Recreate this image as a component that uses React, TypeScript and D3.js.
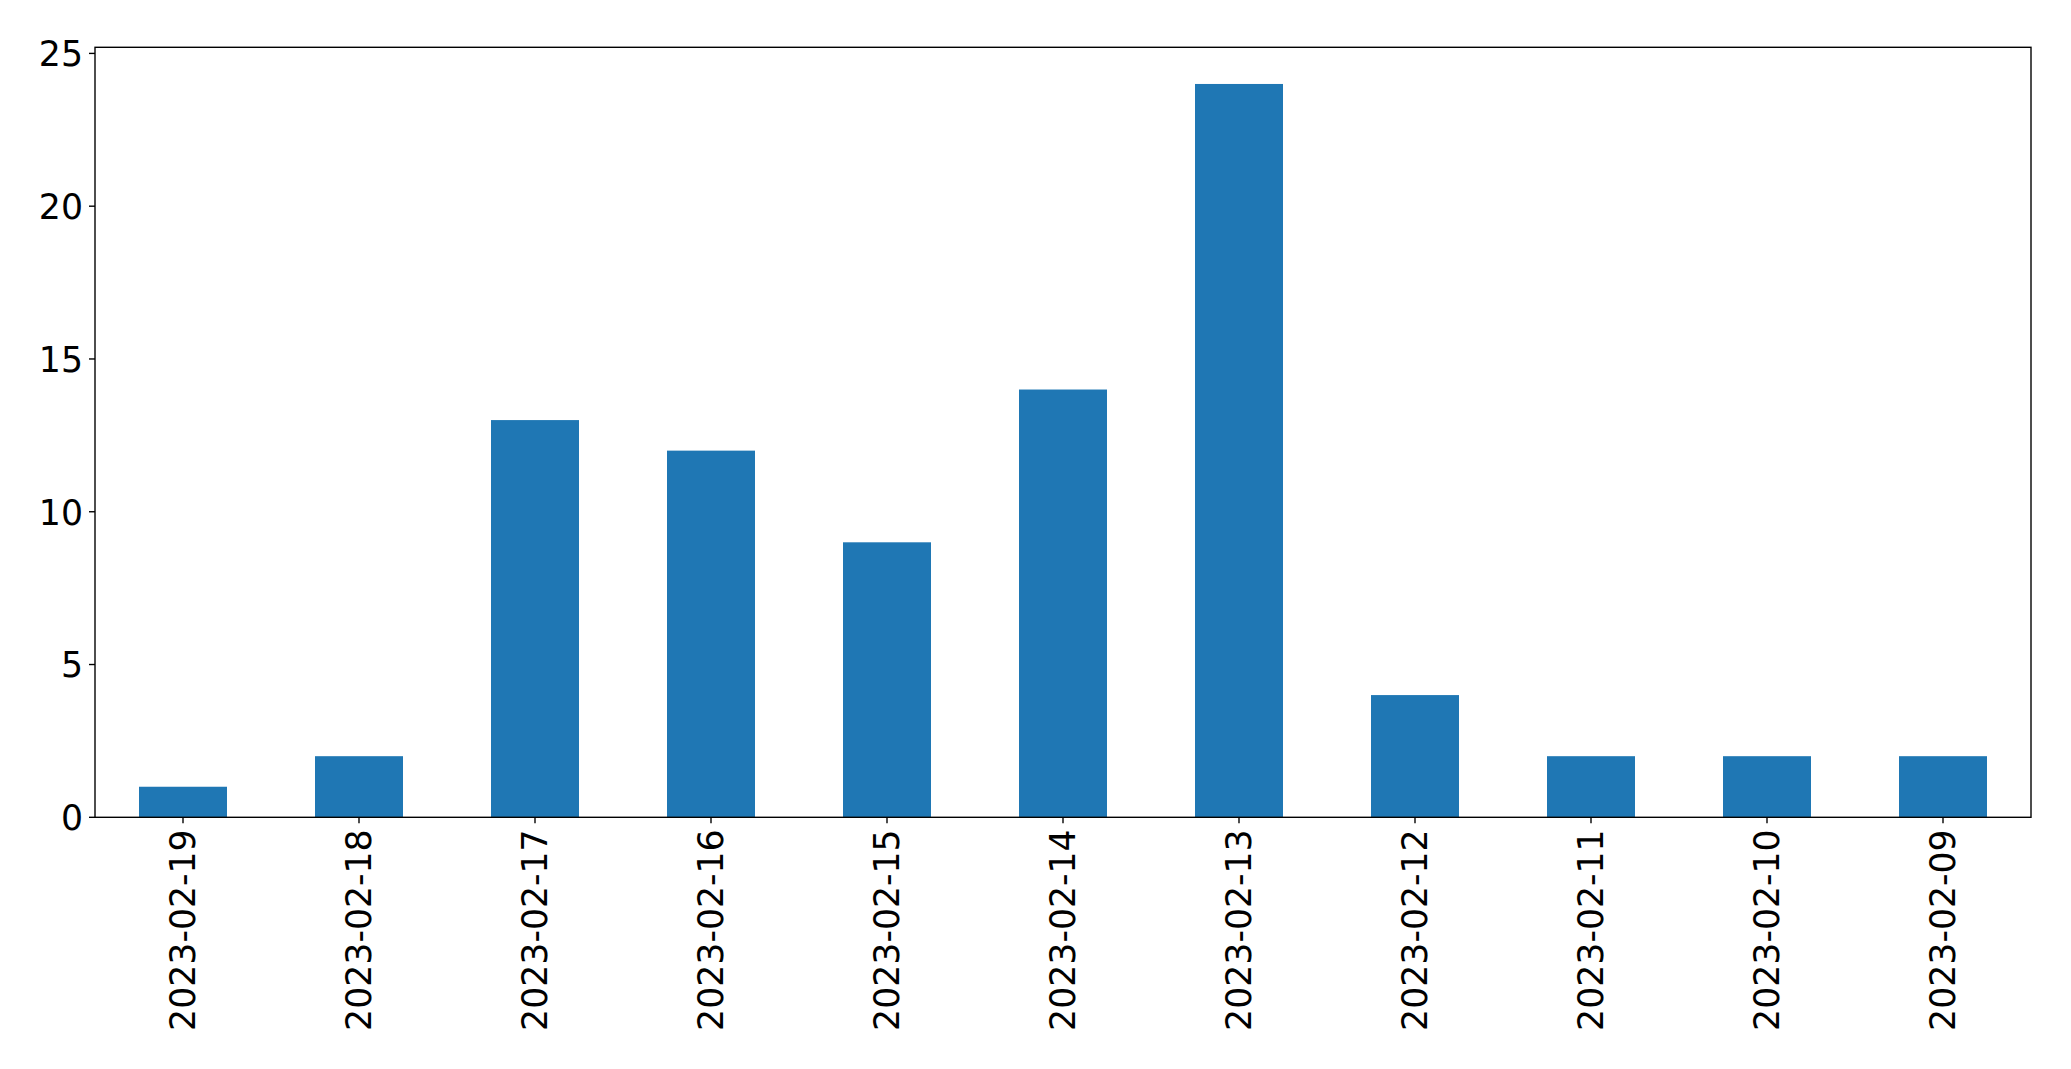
import React from "react";
import * as d3 from "d3";

const categories = ["2023-02-19","2023-02-18","2023-02-17","2023-02-16","2023-02-15","2023-02-14","2023-02-13","2023-02-12","2023-02-11","2023-02-10","2023-02-09"];
const values = [1, 2, 13, 12, 9, 14, 24, 4, 2, 2, 2];
const yTicks = [0, 5, 10, 15, 20, 25];

const W = 2071, H = 1069;
const left = 95, right = 2031, top = 47.3, bottom = 817.3;
const FS = 34.7;
const LW = 1.39;

export default function App() {
  const x = d3.scaleLinear().domain([-0.5, categories.length - 0.5]).range([left, right]);
  const y = d3.scaleLinear().domain([0, 25.2]).range([bottom, top]);
  const bw = x(0.25) - x(-0.25);
  return (
    <svg width={W} height={H} style={{ position: "absolute", left: 0, top: 0, background: "#fff" }}
      fontFamily="DejaVu Sans" fontSize={FS}>
      {values.map((v, i) => (
        <rect key={i} x={x(i) - bw / 2} y={y(v)} width={bw} height={y(0) - y(v)} fill="#1f77b4" />
      ))}
      <rect x={left} y={top} width={right - left} height={bottom - top} fill="none" stroke="#000" strokeWidth={LW} />
      {yTicks.map((t) => (
        <g key={t}>
          <line x1={left - 6} x2={left} y1={y(t)} y2={y(t)} stroke="#000" strokeWidth={LW} />
          <text x={left - 12} y={y(t)} dy="0.37em" textAnchor="end" fill="#000">{t}</text>
        </g>
      ))}
      {categories.map((c, i) => (
        <g key={c}>
          <line x1={x(i)} x2={x(i)} y1={bottom} y2={bottom + 6} stroke="#000" strokeWidth={LW} />
          <text transform={`translate(${x(i)},${bottom + 12}) rotate(-90)`} dy="0.35em" textAnchor="end" fill="#000">{c}</text>
        </g>
      ))}
    </svg>
  );
}
